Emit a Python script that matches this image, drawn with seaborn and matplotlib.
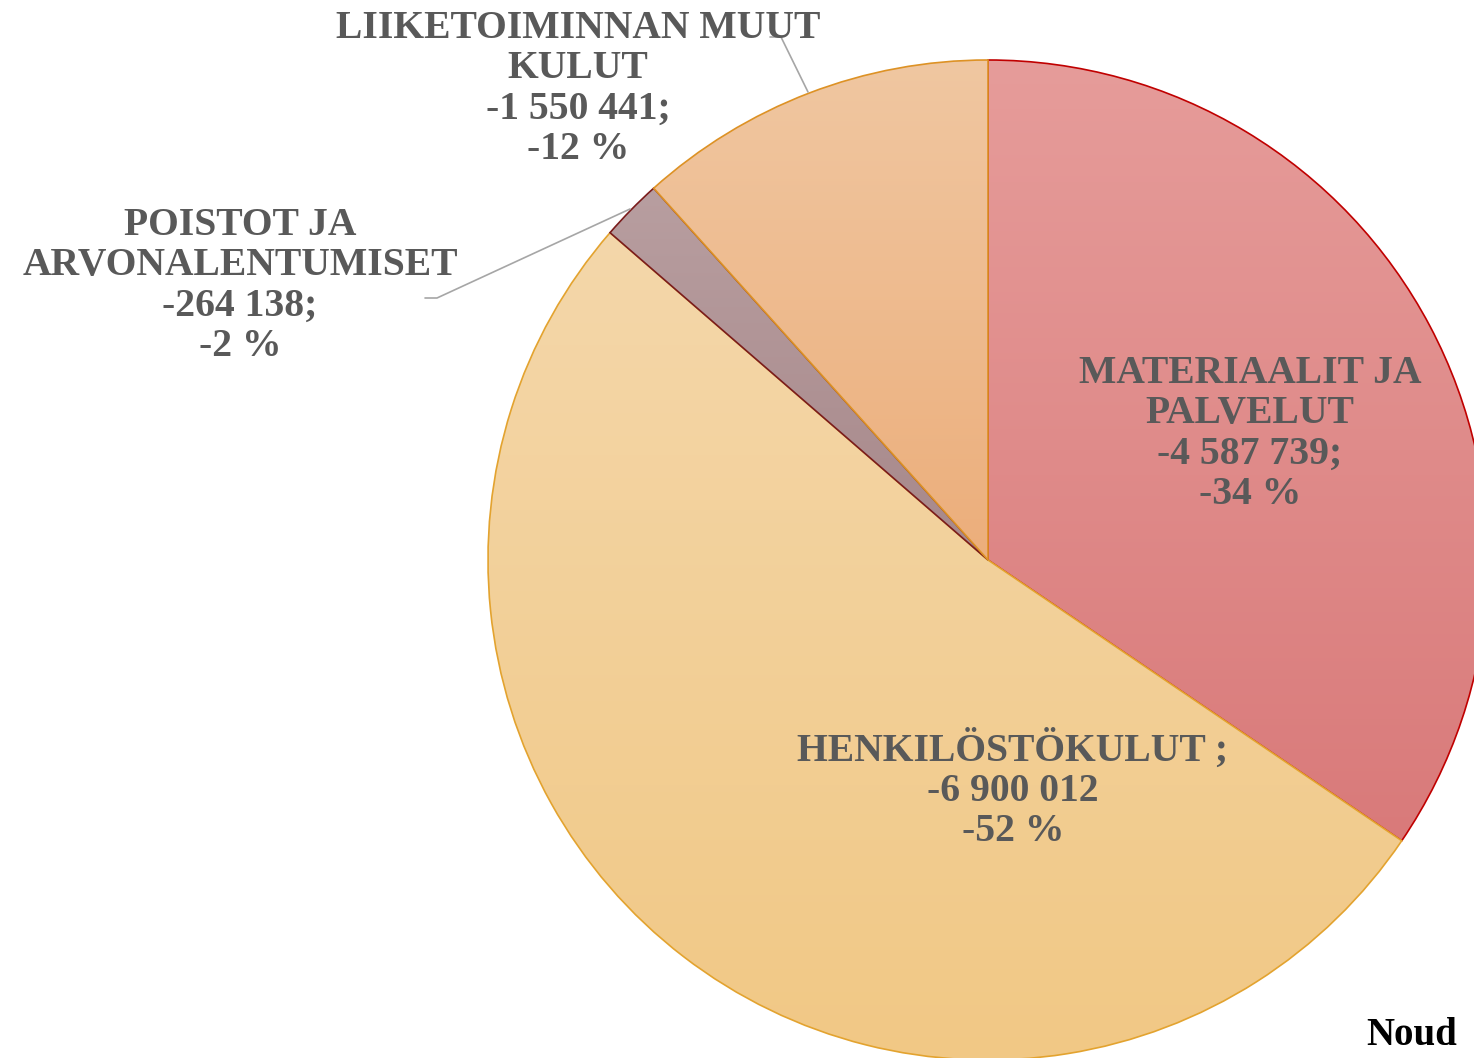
import numpy as np
import matplotlib
matplotlib.use('Agg')
import matplotlib.pyplot as plt
import seaborn as sns
from matplotlib.colors import LinearSegmentedColormap

sns.set_theme(style='white')
plt.rcParams['font.family'] = ['Liberation Serif', 'DejaVu Serif']

# data
categories = ['MATERIAALIT JA PALVELUT', 'HENKILÖSTÖKULUT', 'POISTOT JA ARVONALENTUMISET',
              'LIIKETOIMINNAN MUUT KULUT']
values = [4587739, 6900012, 264138, 1550441]
labels = ['MATERIAALIT JA\nPALVELUT\n-4 587 739;\n-34 %',
          'HENKILÖSTÖKULUT ;\n-6 900 012\n-52 %',
          'POISTOT JA\nARVONALENTUMISET\n-264 138;\n-2 %',
          'LIIKETOIMINNAN MUUT\nKULUT\n-1 550 441;\n-12 %']

# styles
grads = [('#E69C9A', '#D97A7A'), ('#F4D7AA', '#F1C885'),
         ('#B89EA0', '#A7888A'), ('#F0C7A1', '#ECAE7B')]
edges = ['#C00000', '#E3A32F', '#7A1C1C', '#DD9225']
label_pos = [(1250, 434), (1013, 790), (240, 286), (578, 89)]
text_col = '#595959'

W, H = 1474, 1058
fig = plt.figure(figsize=(W / 100, H / 100), dpi=100)
ax = fig.add_axes([0, 0, 1, 1])
cx, cy, r = 988, 560, 500

wedges, _ = ax.pie(values, center=(cx, cy), radius=r, startangle=-90, counterclock=True,
                   wedgeprops=dict(linewidth=1.2))
ax.set_xlim(0, W)
ax.set_ylim(H, 0)

for i, w in enumerate(wedges):
    w.set_edgecolor(edges[i])
    w.set_facecolor('none')
    w.set_zorder(2 + i)
    ext = w.get_path().get_extents()
    cmap = LinearSegmentedColormap.from_list('g%d' % i, list(grads[i]))
    im = ax.imshow(np.linspace(0, 1, 256).reshape(-1, 1), cmap=cmap, aspect='auto',
                   extent=(ext.x0, ext.x1, ext.y1, ext.y0), zorder=1.9 + i)
    im.set_clip_path(w)

for (x, y), t in zip(label_pos, labels):
    ax.text(x, y, t, ha='center', va='center', fontsize=28.5, fontweight='bold',
            color=text_col, linespacing=1.12, zorder=10)

# leader lines
ax.plot([770, 781, 808], [37, 37, 92], color='#A6A6A6', lw=1.2, zorder=9)
ax.plot([425, 437, 630], [298, 298, 209], color='#A6A6A6', lw=1.2, zorder=9)

ax.text(1366, 1054, 'Noud', ha='left', va='bottom', fontsize=28, fontweight='bold',
        color='black', zorder=10)

ax.set_xlim(0, W)
ax.set_ylim(H, 0)
ax.set_aspect('equal')
ax.axis('off')
fig.savefig('out.png', dpi=100)
